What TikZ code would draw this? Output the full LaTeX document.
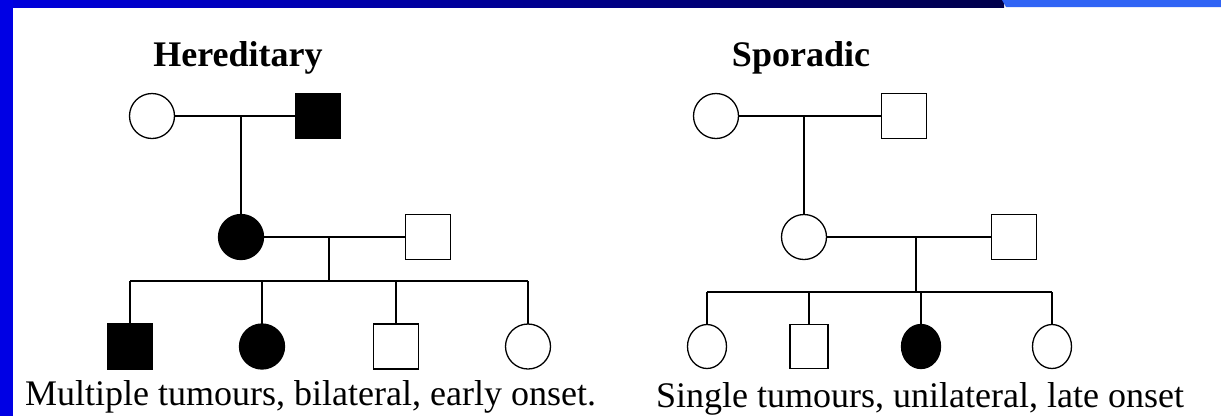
\documentclass[tikz,border=0pt]{standalone}
\usepackage{fontspec}
\setmainfont{Liberation Serif}
\usetikzlibrary{shapes.geometric}
\definecolor{barblue}{RGB}{0,0,228}
\definecolor{barleft}{RGB}{0,0,222}
\definecolor{barright}{RGB}{0,0,75}
\definecolor{barlight}{RGB}{48,100,245}
\tikzset{
  ln/.style={line width=1.6pt, black},
  female/.style={ellipse, draw=black, line width=1.3pt, minimum width=45pt, minimum height=45pt, inner sep=0pt, outer sep=0pt, fill=white},
  male/.style={rectangle, draw=black, line width=1.3pt, minimum width=45pt, minimum height=45pt, inner sep=0pt, outer sep=0pt, fill=white},
  small/.style={minimum width=39pt, minimum height=44pt},
  aff/.style={fill=black},
  title/.style={font=\bfseries\fontsize{36}{40}\selectfont, inner sep=0pt, anchor=base},
  caption/.style={font=\fontsize{36}{40}\selectfont, inner sep=0pt, anchor=base west},
}
\begin{document}
\begin{tikzpicture}[x=1pt,y=-1pt]
\useasboundingbox (0,0) rectangle (1221,416);
\fill[white] (0,0) rectangle (1221,416);
% frame bars
\shade[left color=barleft, right color=barright] (0,0) rectangle (1004,7);
\fill[barlight] (1002,0) -- (1221,0) -- (1221,7) -- (1006,7) -- cycle;
\fill[barblue] (0,0) rectangle (12.5,416);

% ---------- Hereditary ----------
\node[title] (ht) at (238,66) {Hereditary};
\node[female] (hgm) at (152,116) {};
\node[male, aff] (hgf) at (318,116) {};
\node[female, aff] (hm) at (241,237) {};
\node[male] (hh) at (428,237) {};
\coordinate (hc1) at (241,116);
\coordinate (hc2) at (329,237);
\coordinate (hs) at (329,281);
\coordinate (hsl) at (130,281);
\coordinate (hsr) at (528,281);
\node[male, aff] (hk1) at (130,346.5) {};
\node[female, aff] (hk2) at (262,346.5) {};
\node[male] (hk3) at (396,346.5) {};
\node[female] (hk4) at (528,346.5) {};
\draw[ln] (hgm) -- (hgf);
\draw[ln] (hc1) -- (hm);
\draw[ln] (hm) -- (hh);
\draw[ln] (hc2) -- (hs);
\draw[ln] (hsl) -- (hsr);
\draw[ln] (hsl) -- (hk1);
\draw[ln] (hk2 |- hs) -- (hk2);
\draw[ln] (hk3 |- hs) -- (hk3);
\draw[ln] (hsr) -- (hk4);
\node[caption] (hcap) at (25,405) {Multiple tumours, bilateral, early onset.};

% ---------- Sporadic ----------
\node[title] (st) at (801,66) {Sporadic};
\node[female] (sgm) at (716,116) {};
\node[male] (sgf) at (904,116) {};
\node[female] (sm) at (804,237) {};
\node[male] (sh) at (1014,237) {};
\coordinate (sc1) at (804,116);
\coordinate (sc2) at (916,237);
\coordinate (ss) at (916,292);
\coordinate (ssl) at (707,292);
\coordinate (ssr) at (1052,292);
\node[female, small] (sk1) at (707,346.5) {};
\node[male, small, minimum width=38pt] (sk2) at (809,346.5) {};
\node[female, small, aff] (sk3) at (921,346.5) {};
\node[female, small] (sk4) at (1052,346.5) {};
\draw[ln] (sgm) -- (sgf);
\draw[ln] (sc1) -- (sm);
\draw[ln] (sm) -- (sh);
\draw[ln] (sc2) -- (ss);
\draw[ln] (ssl) -- (ssr);
\draw[ln] (ssl) -- (sk1);
\draw[ln] (sk2 |- ss) -- (sk2);
\draw[ln] (sk3 |- ss) -- (sk3);
\draw[ln] (ssr) -- (sk4);
\node[caption] (scap) at (656,407) {Single tumours, unilateral, late onset};
\end{tikzpicture}
\end{document}
